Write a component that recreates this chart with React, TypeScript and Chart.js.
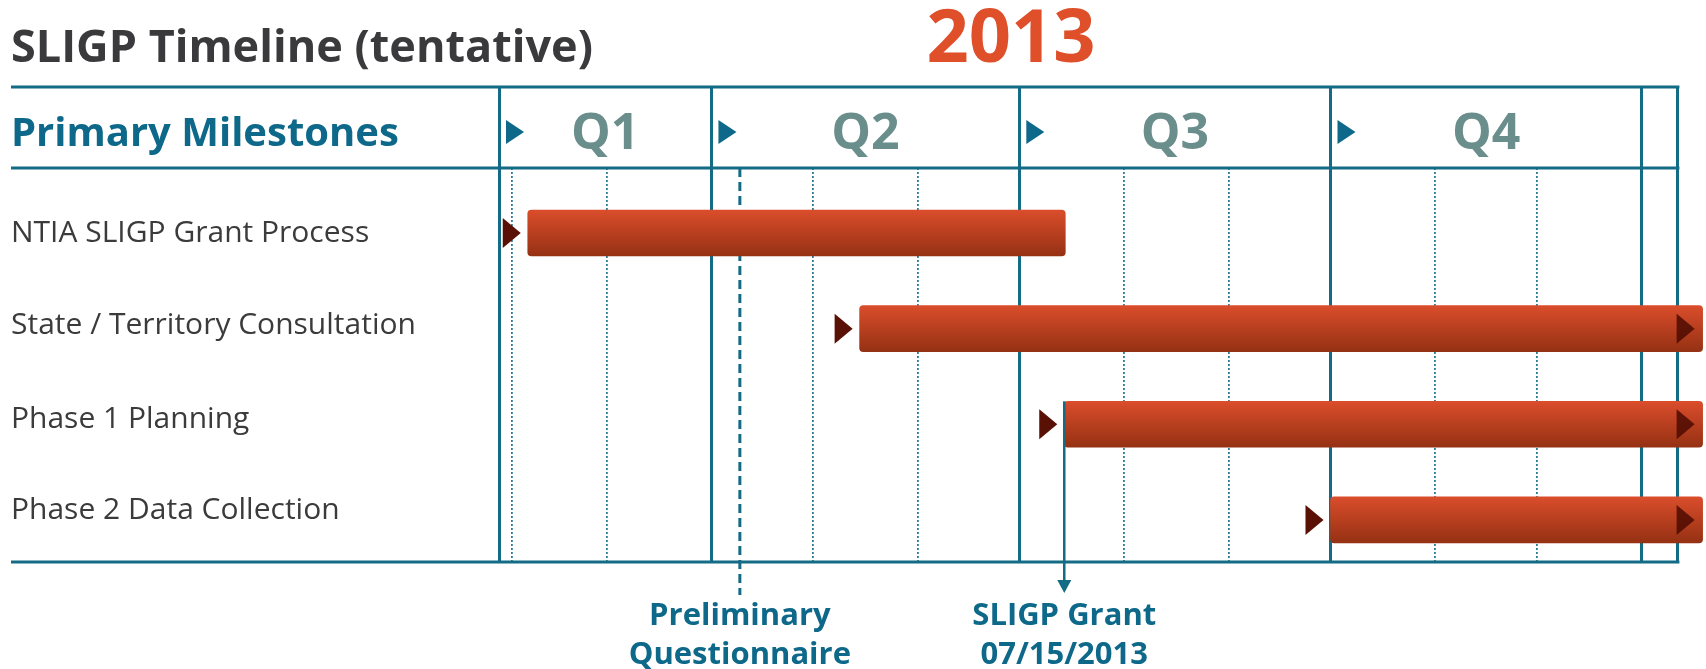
import { useEffect, useRef } from 'react';
import { Chart, registerables } from 'chart.js';

Chart.register(...registerables);

// ---------- data (day of year 2013, Jan 1 = 0) ----------
const TASKS = [
  'NTIA SLIGP Grant Process',
  'State / Territory Consultation',
  'Phase 1 Planning',
  'Phase 2 Data Collection',
];
const TASK_START = [35.7, 133.8, 194.3, 273];
const TASK_END = [194.6, 383, 383, 383];
const TASK_CONTINUES = [false, true, true, true];
// row positions of the task labels (they sit slightly above lower bars)
const LABEL_ROWS = [0, 0.97, 1.95, 2.9];

const QUARTER_LABELS = ['Q1', 'Q2', 'Q3', 'Q4'];
const QUARTER_BOUNDS = [27.2, 90, 181, 273, 365];
const MONTH_BOUNDS = [31, 59, 90, 120, 151, 181, 212, 243, 273, 304, 334, 365];
const TIMELINE_START = 27.2;
const TIMELINE_END = 384;
const FRAME_END = 375.7;
const ROW_MIN = -0.68;
const ROW_MAX = 3.44;

const MILESTONE_LABELS = [
  ['Preliminary', 'Questionnaire'],
  ['SLIGP Grant', '07/15/2013'],
];
const MILESTONE_DAYS = [98.4, 194.3];
const GRANT_ROW = 2;

const TITLE = 'SLIGP Timeline (tentative)';
const YEAR = '2013';
const HEADER = 'Primary Milestones';

// ---------- styles ----------
const TEAL = '#136B86';
const TEAL_TEXT = '#0D6889';
const DOT_TEAL = '#2C7E99';
const Q_COLOR = '#6A8E8B';
const TITLE_COLOR = '#3A3A3C';
const YEAR_COLOR = '#DE4F2A';
const BAR_TOP = '#DA4D2B';
const BAR_BOTTOM = '#953113';
const MARK = '#5A1105';
const FONT = '"Open Sans", "Noto Sans", sans-serif';

const SOLID_VALUES = [...QUARTER_BOUNDS, FRAME_END];
const GRID_VALUES = Array.from(new Set([TIMELINE_START, ...MONTH_BOUNDS, FRAME_END])).sort((a, b) => a - b);
const isSolid = (v: number) => SOLID_VALUES.some((s) => Math.abs(s - v) < 1e-6);

function drawText(
  ctx: CanvasRenderingContext2D,
  s: string,
  x: number,
  y: number,
  font: string,
  color: string,
  align: CanvasTextAlign,
  maxW?: number
) {
  ctx.font = font;
  ctx.fillStyle = color;
  ctx.textAlign = align;
  ctx.textBaseline = 'alphabetic';
  if (maxW) ctx.fillText(s, x, y, maxW);
  else ctx.fillText(s, x, y);
}

const decorPlugin = {
  id: 'decor',
  beforeDraw(chart: any) {
    const { ctx, width, height } = chart;
    ctx.save();
    ctx.fillStyle = '#ffffff';
    ctx.fillRect(0, 0, width, height);
    ctx.restore();
  },
  beforeDatasetsDraw(chart: any) {
    const { ctx, chartArea } = chart;
    const xs = chart.scales.x;
    const px = xs.getPixelForValue(MILESTONE_DAYS[0]);
    ctx.save();
    ctx.strokeStyle = TEAL;
    ctx.lineWidth = 3;
    ctx.setLineDash([9, 5]);
    ctx.beginPath();
    ctx.moveTo(px, chartArea.top);
    ctx.lineTo(px, chartArea.bottom + 33);
    ctx.stroke();
    ctx.restore();
  },
  afterDraw(chart: any) {
    const { ctx, chartArea } = chart;
    const xs = chart.scales.x;
    const ys = chart.scales.y;
    const left = ys.left;
    const right = xs.getPixelForValue(FRAME_END) + 1.5;
    ctx.save();

    ctx.strokeStyle = TEAL;
    ctx.lineWidth = 3;
    [xs.top, chartArea.top, chartArea.bottom].forEach((y: number) => {
      ctx.beginPath();
      ctx.moveTo(left, y);
      ctx.lineTo(right, y);
      ctx.stroke();
    });

    drawText(ctx, TITLE, left, 62, `bold 45px ${FONT}`, TITLE_COLOR, 'left', 586);
    drawText(ctx, YEAR, 1011, 62, `bold 74px ${FONT}`, YEAR_COLOR, 'center', 178);
    const headerMid = (xs.top + chartArea.top) / 2 + 4.5;
    drawText(ctx, HEADER, left, headerMid + 14, `bold 40px ${FONT}`, TEAL_TEXT, 'left', 398);

    QUARTER_LABELS.forEach((q, i) => {
      const a = xs.getPixelForValue(QUARTER_BOUNDS[i]);
      const b = xs.getPixelForValue(QUARTER_BOUNDS[i + 1]);
      drawText(ctx, q, (a + b) / 2, headerMid + 17, `bold 50px ${FONT}`, Q_COLOR, 'center');
      ctx.fillStyle = TEAL_TEXT;
      ctx.beginPath();
      ctx.moveTo(a + 7, headerMid - 12);
      ctx.lineTo(a + 25, headerMid);
      ctx.lineTo(a + 7, headerMid + 12);
      ctx.closePath();
      ctx.fill();
    });

    const meta = chart.getDatasetMeta(0);
    meta.data.forEach((bar: any, i: number) => {
      const { x, y, base } = bar.getProps(['x', 'y', 'base'], true);
      ctx.fillStyle = MARK;
      ctx.beginPath();
      ctx.moveTo(base - 25, y - 15);
      ctx.lineTo(base - 7, y);
      ctx.lineTo(base - 25, y + 15);
      ctx.closePath();
      ctx.fill();
      if (TASK_CONTINUES[i]) {
        ctx.fillStyle = 'rgba(80,12,2,0.88)';
        ctx.beginPath();
        ctx.moveTo(x - 26, y - 15);
        ctx.lineTo(x - 8, y);
        ctx.lineTo(x - 26, y + 15);
        ctx.closePath();
        ctx.fill();
      }
    });

    const gx = xs.getPixelForValue(MILESTONE_DAYS[1]);
    const gBar = meta.data[GRANT_ROW];
    const gTop = gBar ? gBar.y - gBar.height / 2 : chartArea.top;
    const tipY = chartArea.bottom + 31;
    ctx.strokeStyle = TEAL;
    ctx.lineWidth = 2.5;
    ctx.setLineDash([]);
    ctx.beginPath();
    ctx.moveTo(gx, gTop);
    ctx.lineTo(gx, tipY - 10);
    ctx.stroke();
    ctx.fillStyle = TEAL;
    ctx.beginPath();
    ctx.moveTo(gx - 7, tipY - 13);
    ctx.lineTo(gx + 7, tipY - 13);
    ctx.lineTo(gx, tipY);
    ctx.closePath();
    ctx.fill();

    MILESTONE_LABELS.forEach((lines, i) => {
      const mx = xs.getPixelForValue(MILESTONE_DAYS[i]);
      lines.forEach((t, j) => {
        drawText(ctx, t, mx, chartArea.bottom + 63 + j * 39, `bold 31px ${FONT}`, TEAL_TEXT, 'center');
      });
    });

    ctx.restore();
  },
};

export default function App() {
  const ref = useRef<HTMLCanvasElement | null>(null);

  useEffect(() => {
    document.body.style.margin = '0';
    const canvas = ref.current;
    if (!canvas) return;

    const chart = new Chart(canvas, {
      type: 'bar',
      data: {
        labels: TASKS,
        datasets: [
          {
            data: TASKS.map((_, i) => ({ y: i, x: [TASK_START[i], TASK_END[i]] })) as any,
            backgroundColor: (c: any) => {
              const ys = c.chart.scales?.y;
              if (!ys || c.dataIndex == null) return BAR_TOP;
              const yc = ys.getPixelForValue(c.dataIndex);
              if (!Number.isFinite(yc)) return BAR_TOP;
              const g = c.chart.ctx.createLinearGradient(0, yc - 23, 0, yc + 23);
              g.addColorStop(0, BAR_TOP);
              g.addColorStop(1, BAR_BOTTOM);
              return g;
            },
            borderRadius: 4,
            borderSkipped: false,
            barThickness: 46,
          },
        ],
      },
      options: {
        indexAxis: 'y',
        responsive: false,
        animation: false,
        events: [],
        layout: { padding: { top: 87, left: 11, right: 0, bottom: 107 } },
        plugins: { legend: { display: false }, tooltip: { enabled: false } },
        scales: {
          x: {
            type: 'linear',
            position: 'top',
            min: TIMELINE_START,
            max: TIMELINE_END,
            offset: false,
            afterBuildTicks: (s: any) => {
              s.ticks = GRID_VALUES.map((v) => ({ value: v }));
            },
            ticks: { display: false, autoSkip: false },
            grid: {
              offset: false,
              drawOnChartArea: true,
              drawTicks: true,
              tickLength: 81,
              color: (c: any) => (isSolid(c.tick?.value) ? TEAL : DOT_TEAL),
              lineWidth: (c: any) => (isSolid(c.tick?.value) ? 3 : 1.8),
              tickColor: (c: any) => (isSolid(c.tick?.value) ? TEAL : 'rgba(0,0,0,0)'),
              tickWidth: (c: any) => (isSolid(c.tick?.value) ? 3 : 0.01),
            },
            border: {
              display: false,
              dash: (c: any) => (isSolid(c.tick?.value) ? [] : [2, 2]),
            },
          },
          y: {
            type: 'linear',
            reverse: true,
            min: ROW_MIN,
            max: ROW_MAX,
            offset: false,
            bounds: 'data',
            afterBuildTicks: (s: any) => {
              s.ticks = LABEL_ROWS.map((v) => ({ value: v }));
            },
            afterFit: (s: any) => {
              s.width = 488;
            },
            ticks: {
              autoSkip: false,
              crossAlign: 'far',
              color: '#3B3B3B',
              font: { family: FONT, size: 30 },
              callback: (_v: any, i: number) => TASKS[i],
            },
            grid: { display: false, offset: false },
            border: { display: false },
          },
        },
      } as any,
      plugins: [decorPlugin],
    });

    return () => chart.destroy();
  }, []);

  return (
    <div style={{ width: 1706, height: 669 }}>
      <canvas ref={ref} width={1706} height={669} style={{ display: 'block' }} />
    </div>
  );
}
